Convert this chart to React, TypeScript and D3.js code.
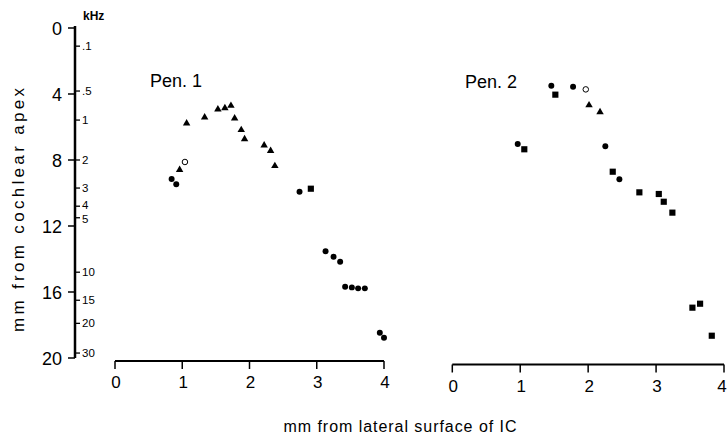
import React from "react";
import * as d3 from "d3";

// ---- Data (mm from lateral surface of IC, mm from cochlear apex) ----
const yMajorTicks = [0, 4, 8, 12, 16, 20];
const kHzLabels = [".1", ".5", "1", "2", "3", "4", "5", "10", "15", "20", "30"];
const kHzPosMm = [1.1, 3.82, 5.58, 8.0, 9.7, 10.8, 11.5, 14.8, 16.5, 17.9, 19.7];
const xTicks = [0, 1, 2, 3, 4];

// Penetration 1
const pen1TriX = [1.065, 1.333, 1.53, 1.634, 1.724, 1.779, 1.877, 1.927, 2.218, 2.314, 2.377, 0.961];
const pen1TriY = [5.78, 5.41, 4.93, 4.85, 4.71, 5.47, 6.18, 6.73, 7.11, 7.44, 8.36, 8.59];
const pen1OpenX = [1.04];
const pen1OpenY = [8.12];
const pen1CircX = [0.842, 0.911, 2.744, 3.131, 3.25, 3.348, 3.422, 3.522, 3.615, 3.715, 3.938, 4.0];
const pen1CircY = [9.15, 9.47, 9.92, 13.53, 13.86, 14.16, 15.68, 15.72, 15.78, 15.78, 18.47, 18.77];
const pen1SqX = [2.912];
const pen1SqY = [9.74];

// Penetration 2
const pen2CircX = [1.458, 1.778, 0.963, 2.253, 2.46];
const pen2CircY = [3.5, 3.56, 7.03, 7.17, 9.17];
const pen2OpenX = [1.965];
const pen2OpenY = [3.72];
const pen2TriX = [2.013, 2.175];
const pen2TriY = [4.68, 5.09];
const pen2SqX = [1.517, 1.06, 2.362, 2.754, 3.04, 3.113, 3.24, 3.535, 3.648, 3.82];
const pen2SqY = [4.04, 7.35, 8.71, 9.96, 10.06, 10.53, 11.19, 16.95, 16.71, 18.65];

const FONT = "'Liberation Sans', Arial, sans-serif";

export default function App() {
  const W = 728, H = 443;
  const y = d3.scaleLinear().domain([0, 20]).range([28, 358]);
  const xL = d3.scaleLinear().domain([0, 4]).range([115, 384]);
  const xR = d3.scaleLinear().domain([0, 4]).range([452.3, 724]);

  const circ = d3.symbol().type(d3.symbolCircle).size(28)()!;
  const tri = d3.symbol().type(d3.symbolTriangle).size(24)()!;
  const sq = d3.symbol().type(d3.symbolSquare).size(38)()!;
  const openC = d3.symbol().type(d3.symbolCircle).size(24)()!;

  const pts = (xs: number[], ys: number[], sx: d3.ScaleLinear<number, number>, path: string, open = false, key = "") =>
    xs.map((v, i) => (
      <path
        key={key + i}
        d={path}
        transform={`translate(${sx(v)},${y(ys[i])})`}
        fill={open ? "white" : "black"}
        stroke="black"
        strokeWidth={open ? 1 : 0}
      />
    ));

  const xAxis = (sx: d3.ScaleLinear<number, number>, ay: number, key: string, lastShift: number) => (
    <g key={key}>
      <line x1={sx(0)} x2={sx(4)} y1={ay} y2={ay} stroke="black" strokeWidth={2.2} />
      {xTicks.map((t, i) => (
        <g key={t}>
          <line x1={sx(t)} x2={sx(t)} y1={ay} y2={ay + 8} stroke="black" strokeWidth={1.5} />
          <text
            x={sx(t) + (i === xTicks.length - 1 ? lastShift : 1)}
            y={ay + 27}
            textAnchor="middle"
            fontSize={17}
            fontFamily={FONT}
          >
            {t}
          </text>
        </g>
      ))}
    </g>
  );

  // small nudges for crowded kHz labels ("4" and "5")
  const nudge = (l: string) => (l === "4" ? -1.5 : l === "5" ? 1.5 : 0);

  return (
    <svg
      width={W}
      height={H}
      style={{ position: "absolute", left: 0, top: 0, background: "white" }}
    >
      <rect width={W} height={H} fill="white" />
      {/* Y axis */}
      <line x1={75} x2={75} y1={y(0) - 2} y2={y(20)} stroke="black" strokeWidth={2.5} />
      {yMajorTicks.map((t) => (
        <g key={"ym" + t}>
          <line x1={68} x2={75} y1={y(t)} y2={y(t)} stroke="black" strokeWidth={1.5} />
          <text x={62} y={y(t) + 6.5} textAnchor="end" fontSize={18} fontFamily={FONT}>
            {t}
          </text>
        </g>
      ))}
      {kHzLabels.map((l, i) => (
        <g key={"k" + i}>
          <line x1={75} x2={80} y1={y(kHzPosMm[i])} y2={y(kHzPosMm[i])} stroke="black" strokeWidth={1.3} />
          <text x={82} y={y(kHzPosMm[i]) + 4 + nudge(l)} fontSize={11.5} fontFamily={FONT}>
            {l}
          </text>
        </g>
      ))}
      <text x={83} y={20} fontSize={12} fontWeight="bold" fontFamily={FONT}>
        kHz
      </text>
      <text
        transform={`translate(24,${210}) rotate(-90)`}
        textAnchor="middle"
        fontSize={17}
        fontFamily={FONT}
        textLength={244}
        lengthAdjust="spacing"
      >
        mm from cochlear apex
      </text>

      {/* X axes */}
      {xAxis(xL, 361, "xl", 1)}
      {xAxis(xR, 364.5, "xr", -2)}
      <text
        x={400}
        y={432}
        textAnchor="middle"
        fontSize={16}
        fontFamily={FONT}
        textLength={233}
        lengthAdjust="spacing"
      >
        mm from lateral surface of IC
      </text>

      {/* Pen labels */}
      <text x={150} y={87} fontSize={18} fontFamily={FONT}>
        Pen. 1
      </text>
      <text x={465} y={88} fontSize={18} fontFamily={FONT}>
        Pen. 2
      </text>

      {/* Pen 1 points */}
      {pts(pen1TriX, pen1TriY, xL, tri, false, "p1t")}
      {pts(pen1CircX, pen1CircY, xL, circ, false, "p1c")}
      {pts(pen1SqX, pen1SqY, xL, sq, false, "p1s")}
      {pts(pen1OpenX, pen1OpenY, xL, openC, true, "p1o")}

      {/* Pen 2 points */}
      {pts(pen2TriX, pen2TriY, xR, tri, false, "p2t")}
      {pts(pen2CircX, pen2CircY, xR, circ, false, "p2c")}
      {pts(pen2SqX, pen2SqY, xR, sq, false, "p2s")}
      {pts(pen2OpenX, pen2OpenY, xR, openC, true, "p2o")}
    </svg>
  );
}
